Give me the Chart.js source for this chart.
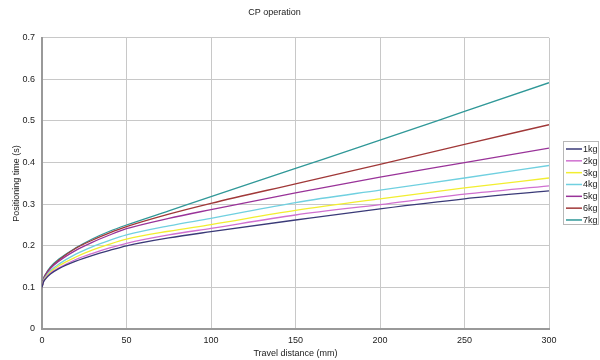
<!DOCTYPE html>
<html><head><meta charset="utf-8">
<script src="https://cdn.jsdelivr.net/npm/chart.js@4/dist/chart.umd.min.js"></script>
<style>html,body{margin:0;padding:0;background:#fff}</style>
</head><body><canvas id="c" width="600" height="360" style="display:block;width:600px;height:360px"></canvas>
<script>
// Travel distance (mm)
const distances = [0, 1, 2, 5, 10, 20, 30, 40, 50, 75, 100, 150, 200, 250, 300];
const seriesNames = ['1kg', '2kg', '3kg', '4kg', '5kg', '6kg', '7kg'];
// Positioning time (s)
const kg1 = [0.100, 0.114, 0.120, 0.132, 0.145, 0.163, 0.177, 0.189, 0.200, 0.219, 0.234, 0.262, 0.289, 0.313, 0.332];
const kg2 = [0.100, 0.115, 0.121, 0.134, 0.147, 0.167, 0.182, 0.195, 0.206, 0.226, 0.242, 0.274, 0.299, 0.324, 0.344];
const kg3 = [0.100, 0.116, 0.123, 0.137, 0.152, 0.173, 0.190, 0.204, 0.216, 0.235, 0.251, 0.285, 0.313, 0.339, 0.363];
const kg4 = [0.100, 0.118, 0.125, 0.140, 0.156, 0.180, 0.198, 0.213, 0.226, 0.248, 0.266, 0.304, 0.334, 0.363, 0.393];
const kg5 = [0.100, 0.120, 0.128, 0.145, 0.163, 0.189, 0.209, 0.226, 0.241, 0.266, 0.287, 0.327, 0.365, 0.400, 0.435];
const kg6 = [0.100, 0.121, 0.130, 0.147, 0.166, 0.194, 0.214, 0.231, 0.246, 0.276, 0.302, 0.349, 0.396, 0.444, 0.491];
const kg7 = [0.100, 0.122, 0.131, 0.149, 0.168, 0.195, 0.217, 0.235, 0.250, 0.284, 0.318, 0.386, 0.454, 0.523, 0.592];
const xTickValues = [0, 50, 100, 150, 200, 250, 300];
const yTickValues = [0, 0.1, 0.2, 0.3, 0.4, 0.5, 0.6, 0.7];
const chartTitle = 'CP operation';
const xTitle = 'Travel distance (mm)';
const yTitle = 'Positioning time (s)';

const allSeries = [kg1, kg2, kg3, kg4, kg5, kg6, kg7];
const colors = ['#3a3a78', '#d070d0', '#f2ee30', '#70d0e0', '#993399', '#a03838', '#309898'];
const FONT = "'Liberation Sans', Arial, sans-serif";

const datasets = allSeries.map((vals, i) => ({
  label: seriesNames[i],
  data: distances.map((d, j) => ({x: d, y: vals[j]})),
  borderColor: colors[i],
  backgroundColor: colors[i],
  borderWidth: 1.3,
  pointRadius: 0,
  fill: false,
  cubicInterpolationMode: 'monotone'
}));

const boxLegend = {
  id: 'boxLegend',
  afterDraw(chart) {
    const ctx = chart.ctx;
    ctx.save();
    ctx.strokeStyle = '#b8b8b8';
    ctx.lineWidth = 1;
    ctx.strokeRect(563.5, 141.5, 35, 83);
    ctx.font = '9px ' + FONT;
    ctx.textBaseline = 'middle';
    ctx.textAlign = 'left';
    chart.data.datasets.forEach((ds, i) => {
      const y = 149 + i * 11.83;
      ctx.strokeStyle = ds.borderColor;
      ctx.lineWidth = 1.5;
      ctx.beginPath(); ctx.moveTo(566, y); ctx.lineTo(582, y); ctx.stroke();
      ctx.fillStyle = '#222';
      ctx.fillText(ds.label, 583, y + 0.5);
    });
    ctx.restore();
  }
};

new Chart(document.getElementById('c'), {
  type: 'line',
  data: {datasets},
  plugins: [boxLegend],
  options: {
    responsive: false,
    devicePixelRatio: 1,
    animation: false,
    layout: {padding: {left: 0, right: 51, top: 0, bottom: 0}},
    plugins: {
      legend: {display: false},
      tooltip: {enabled: false},
      title: {display: true, text: chartTitle, color: '#222', font: {family: FONT, size: 9, weight: 'normal'}, padding: {top: 7, bottom: 20}}
    },
    scales: {
      x: {
        type: 'linear', min: 0, max: 300,
        afterBuildTicks: s => { s.ticks = xTickValues.map(v => ({value: v})); },
        afterFit: s => { s.height = 31; },
        ticks: {color: '#222', font: {family: FONT, size: 9}, padding: 6, maxRotation: 0},
        grid: {color: '#c8c8c8', lineWidth: 1, drawTicks: false},
        border: {color: '#999', width: 2},
        title: {display: true, text: xTitle, color: '#222', font: {family: FONT, size: 9}, padding: {top: 0, bottom: 1}}
      },
      y: {
        type: 'linear', min: 0, max: 0.7,
        afterBuildTicks: s => { s.ticks = yTickValues.map(v => ({value: v})); },
        afterFit: s => { s.width = 42; },
        ticks: {color: '#222', font: {family: FONT, size: 9}, padding: 7, callback: v => (v === 0 ? '0' : v.toFixed(1))},
        grid: {color: '#c8c8c8', lineWidth: 1, drawTicks: false},
        border: {color: '#999', width: 2},
        title: {display: true, text: yTitle, color: '#222', font: {family: FONT, size: 9}, padding: {top: 11, bottom: 0}}
      }
    }
  }
});
</script>
</body></html>
